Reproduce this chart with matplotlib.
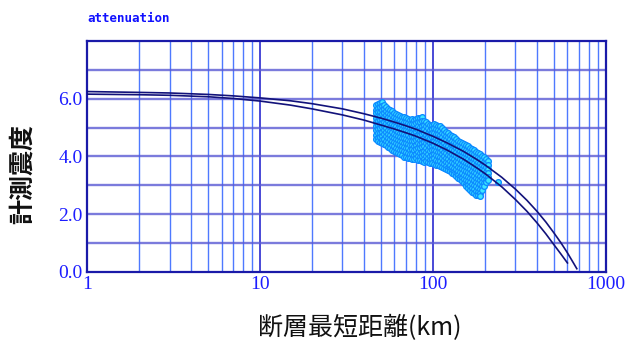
import numpy as np
import matplotlib
matplotlib.use("Agg")
import matplotlib.pyplot as plt
from matplotlib.ticker import FixedLocator, NullFormatter

# attenuation curves (distance km, seismic intensity)
curve_x = [1, 2, 3, 5, 7, 10, 15, 20, 30, 40, 50, 60, 70, 80, 100, 120, 150,
           180, 200, 250, 300, 350, 400, 450, 500, 550, 600, 650, 680]
curve_a_y = [6.25, 6.22, 6.20, 6.15, 6.10, 6.03, 5.93, 5.83, 5.65, 5.48, 5.33,
             5.19, 5.06, 4.94, 4.70, 4.48, 4.18, 3.89, 3.71, 3.28, 2.87, 2.48,
             2.10, 1.73, 1.36, 1.01, 0.66, 0.31, 0.11]
curve_b_y = [6.16, 6.14, 6.12, 6.07, 6.01, 5.92, 5.78, 5.65, 5.44, 5.26, 5.09,
             4.95, 4.82, 4.70, 4.46, 4.23, 3.91, 3.60, 3.41, 2.95, 2.51, 2.10,
             1.70, 1.32, 0.95, 0.62, 0.31]

# observed intensities, grouped by distance
obs_dist = [46.8, 48.1, 49.4, 50.7, 52.1, 53.5, 55.0, 56.4, 57.9, 59.5,
            61.1, 62.8, 64.5, 66.2, 68.0, 69.8, 71.7, 73.6, 75.6, 77.7,
            79.8, 81.9, 84.1, 86.4, 88.7, 91.1, 93.6, 96.1, 98.7, 101,
            104, 107, 110, 113, 116, 119, 122, 125, 129, 132,
            136, 140, 143, 147, 151, 155, 159, 163, 168, 172,
            177, 182, 187, 192, 197, 202, 208, 237]
obs_inten = [
    [5.78, 5.62, 5.49, 5.35, 5.18, 5.05, 4.90, 4.76, 4.60],
    [5.83, 5.68, 5.53, 5.40, 5.24, 5.10, 4.95, 4.80, 4.64, 4.52],
    [5.86, 5.70, 5.55, 5.41, 5.27, 5.12, 4.98, 4.83, 4.67, 4.50],
    [5.90, 5.75, 5.60, 5.46, 5.31, 5.16, 5.02, 4.86, 4.72, 4.56, 4.46],
    [5.80, 5.66, 5.52, 5.36, 5.21, 5.07, 4.92, 4.78, 4.61, 4.44],
    [5.72, 5.59, 5.44, 5.29, 5.15, 5.00, 4.85, 4.70, 4.55, 4.39],
    [5.66, 5.50, 5.37, 5.22, 5.08, 4.93, 4.79, 4.64, 4.49, 4.33],
    [5.61, 5.46, 5.32, 5.17, 5.03, 4.88, 4.73, 4.59, 4.44, 4.28],
    [5.57, 5.42, 5.28, 5.13, 4.98, 4.84, 4.69, 4.55, 4.40, 4.24],
    [5.52, 5.38, 5.23, 5.09, 4.94, 4.79, 4.65, 4.50, 4.36, 4.20],
    [5.47, 5.33, 5.18, 5.04, 4.90, 4.75, 4.60, 4.46, 4.31, 4.17],
    [5.44, 5.30, 5.15, 5.00, 4.86, 4.71, 4.56, 4.42, 4.27, 4.12],
    [5.41, 5.26, 5.12, 4.97, 4.83, 4.68, 4.53, 4.39, 4.23, 4.08],
    [5.38, 5.24, 5.09, 4.94, 4.80, 4.65, 4.50, 4.36, 4.21, 4.05],
    [5.36, 5.21, 5.07, 4.92, 4.78, 4.63, 4.48, 4.33, 4.18, 3.99],
    [5.33, 5.19, 5.04, 4.90, 4.75, 4.60, 4.46, 4.31, 4.15, 3.97],
    [5.31, 5.17, 5.02, 4.88, 4.73, 4.58, 4.43, 4.28, 4.12, 3.94],
    [5.27, 5.13, 4.98, 4.84, 4.69, 4.54, 4.39, 4.24, 4.08, 3.93],
    [5.29, 5.14, 4.99, 4.85, 4.70, 4.55, 4.40, 4.25, 4.09, 3.92],
    [5.26, 5.11, 4.96, 4.82, 4.67, 4.52, 4.37, 4.22, 4.06, 3.91],
    [5.30, 5.15, 5.00, 4.86, 4.71, 4.56, 4.41, 4.26, 4.10, 3.93],
    [5.34, 5.19, 5.05, 4.90, 4.75, 4.60, 4.45, 4.30, 4.15, 4.00, 3.89],
    [5.33, 5.18, 5.03, 4.88, 4.73, 4.58, 4.43, 4.28, 4.12, 3.97, 3.87],
    [5.36, 5.22, 5.07, 4.91, 4.77, 4.62, 4.47, 4.32, 4.16, 4.01, 3.86],
    [5.24, 5.10, 4.95, 4.80, 4.65, 4.50, 4.35, 4.20, 4.05, 3.90, 3.81],
    [5.18, 5.04, 4.89, 4.75, 4.60, 4.45, 4.30, 4.15, 4.00, 3.85],
    [5.12, 4.98, 4.83, 4.68, 4.54, 4.39, 4.24, 4.09, 3.94, 3.80],
    [5.08, 4.93, 4.78, 4.63, 4.48, 4.33, 4.18, 4.03, 3.88, 3.78],
    [5.10, 4.95, 4.80, 4.66, 4.51, 4.36, 4.21, 4.06, 3.91, 3.76],
    [5.13, 4.98, 4.83, 4.68, 4.53, 4.38, 4.23, 4.08, 3.93, 3.74],
    [5.09, 4.94, 4.79, 4.64, 4.49, 4.34, 4.19, 4.04, 3.88, 3.72],
    [5.07, 4.92, 4.77, 4.62, 4.47, 4.32, 4.17, 4.02, 3.86, 3.70],
    [5.04, 4.89, 4.74, 4.59, 4.44, 4.29, 4.14, 3.99, 3.83, 3.67],
    [4.98, 4.83, 4.68, 4.53, 4.38, 4.23, 4.08, 3.93, 3.78, 3.64],
    [4.92, 4.77, 4.62, 4.47, 4.32, 4.17, 4.02, 3.87, 3.73, 3.60],
    [4.86, 4.71, 4.56, 4.41, 4.26, 4.11, 3.96, 3.81, 3.66, 3.57],
    [4.81, 4.66, 4.51, 4.36, 4.21, 4.06, 3.91, 3.76, 3.61, 3.53],
    [4.76, 4.61, 4.46, 4.31, 4.16, 4.01, 3.86, 3.71, 3.56, 3.48],
    [4.70, 4.55, 4.40, 4.25, 4.10, 3.95, 3.80, 3.65, 3.50, 3.44],
    [4.66, 4.51, 4.36, 4.21, 4.06, 3.91, 3.76, 3.61, 3.46, 3.39],
    [4.60, 4.45, 4.30, 4.15, 4.00, 3.85, 3.70, 3.55, 3.40, 3.34],
    [4.55, 4.40, 4.25, 4.10, 3.95, 3.80, 3.65, 3.50, 3.35, 3.27],
    [4.50, 4.35, 4.20, 4.05, 3.90, 3.75, 3.60, 3.45, 3.30, 3.22],
    [4.47, 4.32, 4.17, 4.02, 3.87, 3.72, 3.57, 3.42, 3.27, 3.14],
    [4.42, 4.27, 4.12, 3.97, 3.82, 3.67, 3.52, 3.37, 3.22, 3.07],
    [4.39, 4.24, 4.09, 3.94, 3.79, 3.64, 3.49, 3.34, 3.19, 3.04, 2.96],
    [4.35, 4.20, 4.05, 3.90, 3.75, 3.60, 3.45, 3.30, 3.15, 3.00, 2.90],
    [4.31, 4.16, 4.01, 3.86, 3.71, 3.56, 3.41, 3.26, 3.11, 2.96, 2.84],
    [4.26, 4.11, 3.96, 3.81, 3.66, 3.51, 3.36, 3.21, 3.06, 2.91, 2.78],
    [4.22, 4.07, 3.92, 3.77, 3.62, 3.47, 3.32, 3.17, 3.02, 2.87, 2.73],
    [4.17, 4.02, 3.87, 3.72, 3.57, 3.42, 3.27, 3.12, 2.97, 2.82, 2.68],
    [4.12, 3.97, 3.82, 3.67, 3.52, 3.37, 3.22, 3.07, 2.92, 2.77, 2.66],
    [4.08, 3.93, 3.78, 3.63, 3.48, 3.33, 3.18, 3.03, 2.88, 2.74, 2.64],
    [4.02, 3.87, 3.72, 3.57, 3.42, 3.27, 3.12, 2.99, 2.84],
    [3.97, 3.82, 3.67, 3.52, 3.37, 3.22, 3.07, 2.96],
    [3.92, 3.77, 3.62, 3.47, 3.33, 3.20, 3.10],
    [3.86, 3.72, 3.58, 3.44, 3.30, 3.19],
    [3.10],
]

x_ticks = [1, 10, 100, 1000]
x_labels = ["1", "10", "100", "1000"]
y_ticks = [0, 2, 4, 6]
y_labels = ["0.0", "2.0", "4.0", "6.0"]

pts_x = [d for d, col in zip(obs_dist, obs_inten) for _ in col]
pts_y = [v for col in obs_inten for v in col]

cjk = ["Noto Sans CJK JP", "DejaVu Sans"]

fig = plt.figure(figsize=(6.35, 3.42), dpi=100)
ax = fig.add_axes([0.137, 0.205, 0.817, 0.675])
ax.set_xscale("log")
ax.set_xlim(1, 1000)
ax.set_ylim(0, 8)

# grid
minor_x = [m * 10**e for e in range(3) for m in range(2, 10)]
for xv in minor_x:
    ax.axvline(xv, color="#2f62ff", lw=1.0, alpha=0.85, zorder=1)
for xv in [10, 100]:
    ax.axvline(xv, color="#2a2ad0", lw=1.2, zorder=1)
for yv in range(1, 8):
    ax.axhline(yv, color="#5a5ad4", lw=1.7, alpha=0.8, zorder=1)

ax.scatter(pts_x, pts_y, s=17, facecolor="#3ce6ff", edgecolor="#0c8aff",
           linewidth=0.95, zorder=2)
ax.plot(curve_x, curve_a_y, color="#12127a", lw=1.2, zorder=3)
ax.plot(curve_x[:len(curve_b_y)], curve_b_y, color="#12127a", lw=1.2, zorder=3)

for s in ax.spines.values():
    s.set_color("#1a1aa8")
    s.set_linewidth(1.6)

ax.xaxis.set_major_locator(FixedLocator(x_ticks))
ax.xaxis.set_minor_formatter(NullFormatter())
ax.set_xticks(x_ticks, x_labels)
ax.set_yticks(y_ticks, y_labels)
ax.tick_params(which="both", length=0, colors="#1c1cff", labelsize=14, pad=3)
for lab in ax.get_xticklabels() + ax.get_yticklabels():
    lab.set_fontfamily("Liberation Serif")

fig.text(360 / 635, 1 - 328 / 342, "断層最短距離(km)", family=cjk,
         fontsize=18, color="#111111", ha="center", va="center")
fig.text(23 / 635, 1 - 174 / 342, "計測震度", family=cjk, rotation=90,
         fontsize=18, color="#111111", fontweight="bold",
         ha="center", va="center")
fig.text(0.137, 0.945, "attenuation", family="DejaVu Sans Mono",
         fontweight="bold", fontsize=9, color="#1010ff", va="center")

fig.savefig("out.png", dpi=100)
